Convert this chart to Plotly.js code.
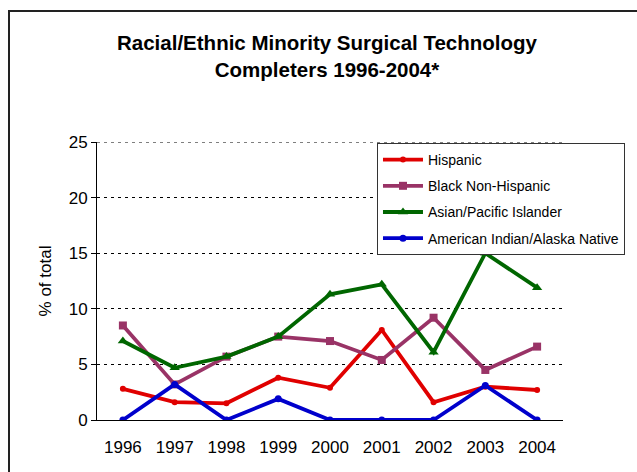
<!DOCTYPE html>
<html>
<head>
<meta charset="utf-8">
<script src="https://cdn.plot.ly/plotly-3.0.1.min.js"></script>
<style>
  html, body { margin: 0; padding: 0; background: #ffffff; overflow: hidden; }
  #frame { position: absolute; left: 8px; top: 10px; width: 700px; height: 520px;
           border-left: 2px solid #222; border-top: 2px solid #222; }
  #chart { position: absolute; left: 0; top: 0; width: 637px; height: 472px; }
</style>
</head>
<body>
<div id="frame"></div>
<div id="chart"></div>
<script>
const years = ['1996','1997','1998','1999','2000','2001','2002','2003','2004'];
const hispanic = [2.8, 1.6, 1.5, 3.8, 2.9, 8.1, 1.6, 3.0, 2.7];
const blackNonHispanic = [8.5, 3.2, 5.7, 7.5, 7.1, 5.4, 9.2, 4.5, 6.6];
const asianPacific = [7.1, 4.7, 5.7, 7.5, 11.3, 12.2, 6.1, 15.0, 11.9];
const amIndian = [0, 3.2, 0, 1.9, 0, 0, 0, 3.1, 0];
const yTicks = [0, 5, 10, 15, 20, 25];

const font = 'Arial, "Liberation Sans", sans-serif';

function series(name, y, color, symbol, size) {
  return {
    type: 'scatter', mode: 'lines+markers', name: name, x: years, y: y,
    legendgroup: name,
    line: { color: color, width: 3.8 },
    marker: { color: color, symbol: symbol, size: size }
  };
}

const data = [
  series('Hispanic', hispanic, '#e00000', 'circle', 6),
  series('Black Non-Hispanic', blackNonHispanic, '#993366', 'square', 8),
  series('Asian/Pacific Islander', asianPacific, '#006600', 'triangle-up', 9),
  series('American Indian/Alaska Native', amIndian, '#0000cc', 'circle', 7)
];

const topTick = yTicks[yTicks.length - 1];

const layout = {
  width: 637, height: 472,
  paper_bgcolor: 'rgba(0,0,0,0)', plot_bgcolor: 'rgba(0,0,0,0)',
  margin: { l: 97, r: 59, t: 142, b: 52 },
  font: { family: font, color: '#000' },
  title: {
    text: '<b>Racial/Ethnic Minority Surgical Technology<br>Completers 1996-2004*</b>',
    font: { family: font, size: 20.5, color: '#000' },
    xref: 'container', x: 327/637, xanchor: 'center',
    yref: 'container', y: 1 - 50/472, yanchor: 'top'
  },
  xaxis: {
    type: 'category', range: [-0.5, 8.5],
    showgrid: false, showline: true, linecolor: '#000', linewidth: 1,
    ticks: '', tickfont: { family: font, size: 17, color: '#000' },
    ticklabelstandoff: 12, zeroline: false, fixedrange: true
  },
  yaxis: {
    range: [0, topTick], tickvals: yTicks, ticktext: yTicks.map(String),
    showgrid: true, gridcolor: '#000', gridwidth: 1, griddash: '3px,4px',
    showline: true, linecolor: '#000', linewidth: 1,
    ticks: 'outside', ticklen: 5, tickcolor: '#000',
    tickfont: { family: font, size: 17, color: '#000' },
    zeroline: false,
    title: { text: '% of total', font: { family: font, size: 17, color: '#000' }, standoff: 12 }
  },
  shapes: [{
    type: 'line', xref: 'paper', x0: 0, x1: 1, yref: 'y', y0: topTick, y1: topTick,
    line: { color: '#000', width: 1, dash: '3px,4px' }, layer: 'below'
  }],
  legend: {
    x: (386-97)/481, xanchor: 'left', y: (420-143)/278, yanchor: 'top',
    bgcolor: '#ffffff', bordercolor: '#333', borderwidth: 1,
    font: { family: font, size: 14, color: '#000' },
    itemwidth: 40, tracegroupgap: 5
  },
  showlegend: true
};

Plotly.newPlot('chart', data, layout, { displayModeBar: false, staticPlot: true });
</script>
</body>
</html>
